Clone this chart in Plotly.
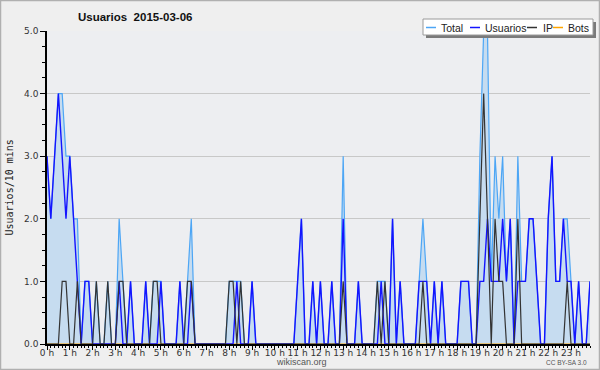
import plotly.graph_objects as go

# ---- data (10-minute slots, 144 per day) ----
hour_labels = ["0 h", "1 h", "2 h", "3 h", "4 h", "5 h", "6 h", "7 h", "8 h", "9 h", "10 h", "11 h",
               "12 h", "13 h", "14 h", "15 h", "16 h", "17 h", "18 h", "19 h", "20 h", "21 h", "22 h", "23 h"]
y_tick_values = [0, 1, 2, 3, 4, 5]
y_tick_labels = ["0.0", "1.0", "2.0", "3.0", "4.0", "5.0"]

usuarios = [
    3, 2, 3, 4, 3, 2, 3, 2, 1, 0, 1, 1, 0, 0, 0, 0, 0, 0, 0, 1, 0, 0, 1, 0,
    0, 0, 1, 0, 0, 0, 1, 0, 0, 0, 0, 1, 0, 0, 1, 0, 0, 0, 0, 0, 0, 0, 0, 0,
    0, 0, 1, 0, 0, 0, 1, 0, 0, 0, 0, 0, 0, 0, 0, 0, 0, 0, 1, 2, 0, 0, 1, 0,
    1, 0, 0, 1, 0, 0, 2, 0, 0, 0, 1, 0, 0, 0, 0, 0, 1, 0, 0, 2, 0, 1, 0, 0,
    0, 0, 1, 1, 1, 0, 1, 0, 1, 0, 0, 0, 0, 1, 1, 1, 0, 0, 1, 1, 2, 1, 1, 1,
    2, 1, 2, 0, 1, 1, 1, 2, 2, 1, 0, 0, 2, 3, 1, 1, 2, 1, 1, 0, 1, 0, 0, 1,
]
ip = [
    0, 0, 0, 0, 1, 1, 0, 0, 1, 0, 0, 0, 0, 1, 0, 0, 1, 0, 0, 1, 1, 0, 0, 0,
    0, 0, 0, 0, 1, 1, 0, 0, 0, 0, 0, 0, 0, 1, 1, 0, 0, 0, 0, 0, 0, 0, 0, 0,
    1, 1, 0, 1, 0, 0, 0, 0, 0, 0, 0, 0, 0, 0, 0, 0, 0, 0, 0, 0, 0, 0, 0, 0,
    0, 0, 0, 0, 0, 0, 1, 0, 0, 0, 0, 0, 0, 0, 0, 1, 0, 1, 0, 0, 0, 0, 0, 0,
    0, 0, 0, 1, 0, 0, 0, 0, 0, 0, 0, 0, 0, 0, 0, 0, 0, 0, 2, 4, 2, 0, 2, 1,
    1, 0, 0, 0, 2, 0, 0, 0, 0, 0, 0, 0, 0, 0, 0, 0, 0, 1, 0, 0, 0, 0, 0, 0,
]
total = [
    3, 2, 3, 4, 4, 3, 3, 2, 2, 0, 1, 1, 0, 1, 0, 0, 1, 0, 0, 2, 1, 0, 1, 0,
    0, 0, 1, 0, 1, 1, 1, 0, 0, 0, 0, 1, 0, 1, 2, 0, 0, 0, 0, 0, 0, 0, 0, 0,
    1, 1, 1, 1, 0, 0, 1, 0, 0, 0, 0, 0, 0, 0, 0, 0, 0, 0, 1, 2, 0, 0, 1, 0,
    1, 0, 0, 1, 0, 0, 3, 0, 0, 0, 1, 0, 0, 0, 0, 1, 1, 1, 0, 2, 0, 1, 0, 0,
    0, 0, 1, 2, 1, 0, 1, 0, 1, 0, 0, 0, 0, 1, 1, 1, 0, 0, 3, 5, 5, 1, 3, 2,
    3, 1, 2, 0, 3, 1, 1, 2, 2, 1, 0, 0, 2, 3, 1, 1, 2, 2, 1, 0, 1, 0, 0, 1,
]
bots = [
    0, 0, 0, 0, 0, 0, 0, 0, 0, 0, 0, 0, 0, 0, 0, 0, 0, 0, 0, 0, 0, 0, 0, 0,
    0, 0, 0, 0, 0, 0, 0, 0, 0, 0, 0, 0, 0, 0, 0, 0, 0, 0, 0, 0, 0, 0, 0, 0,
    0, 0, 0, 0, 0, 0, 0, 0, 0, 0, 0, 0, 0, 0, 0, 0, 0, 0, 0, 0, 0, 0, 0, 0,
    0, 0, 0, 0, 0, 0, 0, 0, 0, 0, 0, 0, 0, 0, 0, 0, 0, 0, 0, 0, 0, 0, 0, 0,
    0, 0, 0, 0, 0, 0, 0, 0, 0, 0, 0, 0, 0, 0, 0, 0, 0, 0, 0, 0, 0, 0, 0, 0,
    0, 0, 0, 0, 0, 0, 0, 0, 0, 0, 0, 0, 0, 0, 0, 0, 0, 0, 0, 0, 0, 0, 0, 0,
]
slots = list(range(len(total)))
series_names = ["Total", "Usuarios", "IP", "Bots"]
series_colors = ["#4da6f5", "#1414ff", "#333333", "#ffa500"]

# ---- layout geometry (pixels) ----
W, H = 600, 370
L, R, T, B = 47, 10, 31, 26
PW, PH = W - L - R, H - T - B


def px(xp):
    return (xp - L) / PW


def py(yp):
    return (H - B - yp) / PH


fig = go.Figure()
fig.add_trace(go.Scatter(x=slots, y=total, mode="lines", name="Total",
                         line=dict(color=series_colors[0], width=1.2),
                         fill="tozeroy", fillcolor="#c6dcf0"))
fig.add_trace(go.Scatter(x=slots, y=bots, mode="lines", name="Bots",
                         line=dict(color=series_colors[3], width=1.0)))
fig.add_trace(go.Scatter(x=slots, y=usuarios, mode="lines", name="Usuarios",
                         line=dict(color=series_colors[1], width=1.4)))
fig.add_trace(go.Scatter(x=slots, y=ip, mode="lines", name="IP",
                         line=dict(color=series_colors[2], width=1.2)))

shapes = []
annotations = []

# outer border
shapes.append(dict(type="rect", xref="paper", yref="paper",
                   x0=px(0.5), x1=px(W - 0.5), y0=py(H - 0.5), y1=py(0.5),
                   line=dict(color="#b0b0b0", width=1.5), fillcolor="rgba(0,0,0,0)", layer="above"))

# legend box with shadow
lx0, lx1, ly0, ly1 = 423, 593, 19, 35
shapes.append(dict(type="rect", xref="paper", yref="paper",
                   x0=px(lx0 + 3), x1=px(lx1 + 3), y0=py(ly1 + 3), y1=py(ly0 + 3),
                   line=dict(width=0), fillcolor="#7a7a7a", layer="above"))
shapes.append(dict(type="rect", xref="paper", yref="paper",
                   x0=px(lx0), x1=px(lx1), y0=py(ly1), y1=py(ly0),
                   line=dict(color="#9a9a9a", width=1), fillcolor="#ffffff", layer="above"))
leg_y = 27.5
leg_line_x = [426, 470, 527, 553]
leg_text_x = [439, 483, 541, 566]
for name, col, lxp, txp in zip(series_names, series_colors, leg_line_x, leg_text_x):
    shapes.append(dict(type="line", xref="paper", yref="paper",
                       x0=px(lxp), x1=px(lxp + 10), y0=py(leg_y), y1=py(leg_y),
                       line=dict(color=col, width=1.5), layer="above"))
    annotations.append(dict(text=name, xref="paper", yref="paper", x=px(txp), y=py(leg_y),
                            xanchor="left", yanchor="middle", showarrow=False,
                            font=dict(family="Liberation Sans, Arial", size=10.5, color="#222222")))

# title
annotations.append(dict(text="<b>Usuarios  2015-03-06</b>", xref="paper", yref="paper",
                        x=px(76), y=py(17), xanchor="left", yanchor="middle", showarrow=False,
                        font=dict(family="Liberation Sans, Arial", size=11.5, color="#111111")))
# y axis title
annotations.append(dict(text="Usuarios/10 mins", xref="paper", yref="paper",
                        x=px(9), y=0.5, xanchor="center", yanchor="middle", textangle=-90,
                        showarrow=False,
                        font=dict(family="DejaVu Sans Mono", size=10, color="#222222")))
# footers
annotations.append(dict(text="wikiscan.org", xref="paper", yref="paper",
                        x=px(301), y=py(362), xanchor="center", yanchor="middle", showarrow=False,
                        font=dict(family="Liberation Sans, Arial", size=9, color="#555555")))
annotations.append(dict(text="CC BY-SA 3.0", xref="paper", yref="paper",
                        x=px(589), y=py(362.5), xanchor="right", yanchor="middle", showarrow=False,
                        font=dict(family="Liberation Sans, Arial", size=6.5, color="#555555")))

fig.update_layout(
    width=W, height=H,
    margin=dict(l=L, r=R, t=T, b=B, pad=0),
    paper_bgcolor="#efefef",
    plot_bgcolor="#edeef1",
    showlegend=False,
    shapes=shapes,
    annotations=annotations,
    xaxis=dict(
        range=[0, len(slots) - 1],
        automargin=False,
        tickmode="array",
        tickvals=slots[::6],
        ticktext=hour_labels,
        ticks="outside", ticklen=4, tickwidth=1, tickcolor="#000000",
        ticklabelstandoff=-5,
        showline=True, linecolor="#000000", linewidth=1.5,
        showgrid=False, zeroline=False,
        tickfont=dict(family="DejaVu Sans", size=9, color="#333333"),
        minor=dict(dtick=1, tick0=0, ticks="outside", ticklen=2, tickwidth=1,
                   tickcolor="#000000", showgrid=False),
    ),
    yaxis=dict(
        range=[0, 5],
        automargin=False,
        tickmode="array",
        tickvals=y_tick_values,
        ticktext=y_tick_labels,
        ticks="outside", ticklen=5, tickwidth=1, tickcolor="#000000",
        showline=True, linecolor="#000000", linewidth=1.5,
        showgrid=True, gridcolor="#c8c8c8", gridwidth=1,
        zeroline=False,
        tickfont=dict(family="DejaVu Sans", size=9, color="#333333"),
        minor=dict(dtick=0.25, tick0=0, ticks="outside", ticklen=3, tickwidth=1,
                   tickcolor="#000000", showgrid=False),
    ),
)

fig.write_html("out.html", config={"displayModeBar": False},
               post_script="document.body.style.margin='0px';")
